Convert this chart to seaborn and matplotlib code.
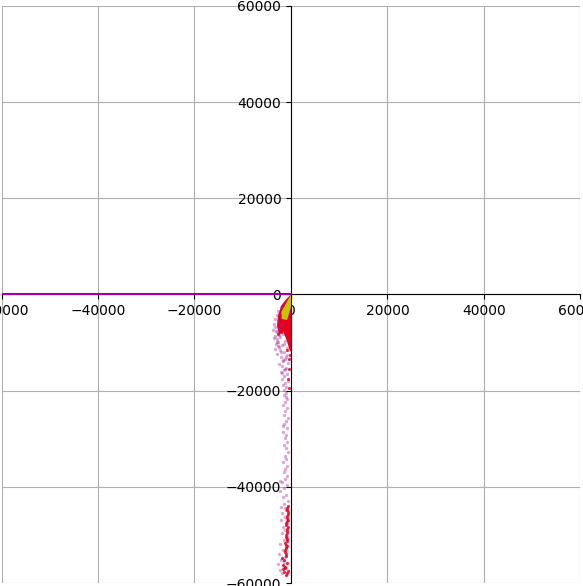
import matplotlib
matplotlib.use("Agg")
import matplotlib.pyplot as plt
import seaborn as sns
import pandas as pd

# trail of scattered points (purple)
trail_x = [-600, -1500, -2100, -2700, -1200, -3000, -2000, -3400, -2600, -3600,
           -1800, -3300, -2500, -3700, -2900, -1600, -3400, -2200, -3000, -1300,
           -2700, -3200, -1900, -2500, -900,
           -2200, -1500, -800, -2000, -1200, -1700, -600, -1900, -1100, -1500,
           -2100, -900, -1400, -1800, -700, -1300, -1600, -1000, -1400,
           -1100, -1500, -800, -1300, -1700, -900, -1200, -1500, -700, -1100,
           -1400, -900, -1600, -1000, -1300, -800, -1500, -1100, -700, -1300,
           -1000, -1600, -900, -1200, -1500, -800,
           -1300, -1900, -900, -1500, -2200, -1100, -1700, -700, -1400, -2000,
           -1000, -1800, -1300, -2100, -800, -1600, -1200, -1900, -900, -1500,
           -2200, -1100, -1700, -2400, -1300, -2000, -2600, -1500, -2200, -1800,
           -3200, -2400, -3500, -2800, -1500, -2600, -3300, -2000, -2900, -1100,
           -1700, -2500, -1300, -1900, -1000, -1600, -2300, -1200, -800, -1500]
trail_y = [-1200, -1800, -2600, -3400, -3000, -4200, -4600, -5200, -5600, -6100,
           -6300, -6800, -7100, -7400, -7900, -8200, -8600, -8900, -9300, -9600,
           -9900, -10300, -10600, -11000, -11200,
           -11600, -12000, -12500, -13000, -13400, -13900, -14300, -14800, -15200, -15700,
           -16100, -16600, -17000, -17500, -17900, -18400, -18800, -19300, -19800,
           -20400, -21000, -21700, -22300, -23000, -23600, -24300, -25000, -25700, -26400,
           -27000, -27800, -28500, -29200, -29900, -30600, -31300, -32000, -32800, -33500,
           -34200, -34900, -35600, -36300, -37000, -37700,
           -38300, -39000, -39600, -40300, -40900, -41600, -42200, -42900, -43500, -44100,
           -44800, -45500, -46200, -46900, -47600, -48300, -49000, -49700, -50400, -51100,
           -51800, -52500, -53200, -53900, -54600, -55300, -56000, -56600, -57300, -58000,
           -7600, -8400, -9100, -9800, -10200, -10800, -11400, -11900, -12300, -13100,
           -13700, -14500, -15400, -16300, -21300, -27400, -38700, -44500, -50800, -55600]

# denser red points
core_x = [-400, -900, -1400, -600, -1000, -1800, -2100, -700, -2600, -300,
          -800, -300, -500, -400, -700, -500,
          -700, -800, -700, -900, -800, -1000, -900, -800, -1000, -900,
          -1100, -1000, -1200, -1100, -1400, -900, -1700, -1200, -700, -1500, -1000,
          -900, -600, -800, -700, -1000, -700, -900, -1100, -800, -1200,
          -900, -1300, -1000, -1900, -1300, -1600, -800]
core_y = [-700, -1500, -2300, -3800, -6200, -6900, -7900, -9000, -8300, -10500,
          -11500, -12500, -13500, -15500, -17500, -19500,
          -44000, -44800, -45600, -46400, -47200, -48000, -48800, -49600, -50400, -51200,
          -52000, -52800, -53600, -54400, -55200, -55800, -56300, -56900, -57400, -57800, -58300,
          -44400, -45200, -46000, -46800, -47600, -48400, -49200, -50000, -50800, -51600,
          -52400, -53200, -54000, -54800, -56600, -57100, -58000]

# filled regions near the origin
red_poly_x = [0, -1000, -2000, -2700, -2900, -2500, -1600, -900, -300, 0]
red_poly_y = [0, -1000, -2300, -4400, -6500, -8300, -7800, -9500, -11500, -12000]
yellow_poly_x = [0, -2000, -1900, -800, 0]
yellow_poly_y = [0, -3600, -5100, -5300, -2500]

# line along the horizontal axis
line_x = [-62000, 0]
line_y = [0, 0]

trail = pd.DataFrame({"x": trail_x, "y": trail_y})
core = pd.DataFrame({"x": core_x, "y": core_y})

fig = plt.figure(figsize=(5.83, 5.86), dpi=100)
ax = fig.add_axes([0.0026, 0.0051, 0.993, 0.9847])

ax.fill(red_poly_x, red_poly_y, color="#e8001c", linewidth=0, zorder=2)
ax.fill(yellow_poly_x, yellow_poly_y, color="#c8c400", linewidth=0, zorder=3)
sns.scatterplot(data=trail, x="x", y="y", color="#a8279c", alpha=0.4, s=6,
                linewidth=0, ax=ax, zorder=2)
sns.scatterplot(data=core, x="x", y="y", color="#e8001c", alpha=0.85, s=5,
                linewidth=0, ax=ax, zorder=2)
sns.lineplot(x=line_x, y=line_y, color="#a000a0", linewidth=1.5, ax=ax,
             sort=False, zorder=4)

ax.set_xlim(-60000, 60000)
ax.set_ylim(-60000, 60000)
ax.spines["left"].set_position("zero")
ax.spines["bottom"].set_position("zero")
ax.spines["right"].set_visible(False)
ax.spines["top"].set_visible(False)
ax.set_xlabel("")
ax.set_ylabel("")
ax.grid(True, color="#b0b0b0", linewidth=0.8)
ax.set_axisbelow(True)

fig.savefig("out.png", dpi=100)
